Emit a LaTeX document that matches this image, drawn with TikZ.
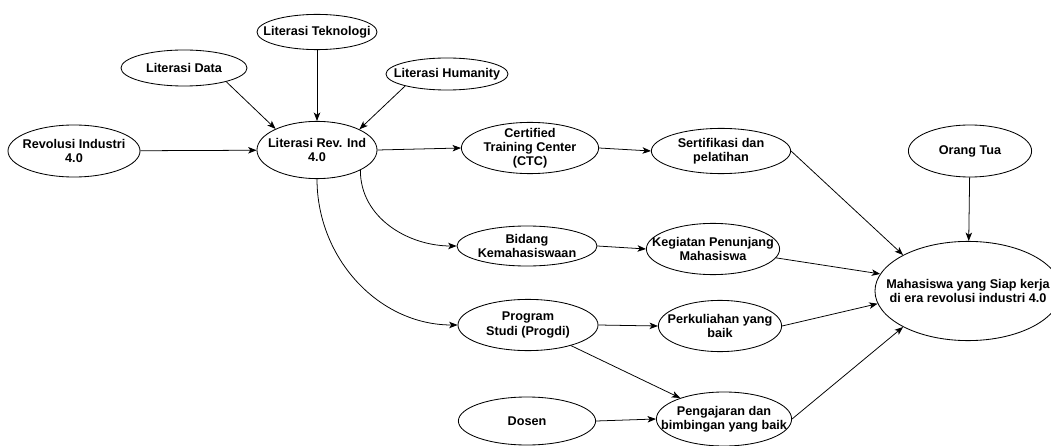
\documentclass[tikz,border=0pt]{standalone}
\usepackage{fontspec}
\setmainfont{Liberation Sans}
\usepackage{tikz}
\usetikzlibrary{shapes.geometric,arrows.meta}

\tikzset{
	oval/.style={draw, ellipse, inner sep=0pt, line width=0.6pt},
	txt/.style={font=\fontsize{9}{10}\selectfont\bfseries, align=center, inner sep=0pt},
	arr/.style={-{Stealth[length=6pt,width=4.6pt,inset=1.6pt]}, line width=0.55pt}
}

\begin{document}
\begin{tikzpicture}[x=0.025cm, y=-0.025cm]
		\useasboundingbox (0,0) rectangle (1051,446);

		% Literasi
		\node [oval, minimum width=3cm, minimum height=0.88cm, label={[txt]center:Literasi Teknologi}] (tek) at (317,32) {};
		\node [oval, minimum width=3.15cm, minimum height=0.9cm, label={[txt]center:Literasi Data}] (data) at (184,68) {};
		\node [oval, minimum width=3.05cm, minimum height=0.8cm, label={[txt]center:Literasi Humanity}] (hum) at (447,74) {};
		\node [oval, minimum width=3.3cm, minimum height=1.3cm, label={[txt]center:{Revolusi Industri\\4.0}}] (rev) at (74,151) {};
		\node [oval, minimum width=3cm, minimum height=1.43cm, label={[txt]center:{Literasi Rev. Ind\\4.0}}] (litrev) at (317,150) {};

		% Unit
		\node [oval, minimum width=3.43cm, minimum height=1.28cm, label={[txt]center:{Certified\\Training Center\\(CTC)}}] (ctc) at (530,148) {};
		\node [oval, minimum width=3.5cm, minimum height=1cm, label={[txt]center:{Bidang\\Kemahasiswaan}}] (bid) at (527,246) {};
		\node [oval, minimum width=3.5cm, minimum height=1.28cm, label={[txt]center:{Program\\Studi (Progdi)}}] (prog) at (528,325) {};
		\node [oval, minimum width=3.43cm, minimum height=1.2cm, label={[txt]center:Dosen}] (dosen) at (527,421) {};

		% Kegiatan
		\node [oval, minimum width=3.48cm, minimum height=1.13cm, label={[txt]center:{Sertifikasi dan\\pelatihan}}] (sert) at (721,151) {};
		\node [oval, minimum width=3.33cm, minimum height=1.28cm, label={[txt]center:{Kegiatan Penunjang\\Mahasiswa}}] (keg) at (713,249) {};
		\node [oval, minimum width=3.08cm, minimum height=1.28cm, label={[txt]center:{Perkuliahan yang\\baik}}] (perk) at (720,326) {};
		\node [oval, minimum width=3.38cm, minimum height=1.35cm, label={[txt]center:{Pengajaran dan\\bimbingan yang baik}}] (peng) at (724,419) {};

		% Hasil
		\node [oval, minimum width=3.08cm, minimum height=1.3cm, label={[txt]center:Orang Tua}] (ortu) at (970,151) {};
		\node [oval, minimum width=4.65cm, minimum height=2.48cm, label={[txt]center:{Mahasiswa yang Siap kerja\\di era revolusi industri 4.0}}] (maha) at (968,291) {};

		\draw [arr] (data.-18) -- (litrev.153);
		\draw [arr] (tek) -- (litrev);
		\draw [arr] (hum.196) -- (litrev.26);
		\draw [arr] (rev) -- (litrev);

		\draw [arr] (litrev.east) -- (ctc.west);
		\draw [arr] (litrev.-25) to [out=-90, in=180] (bid.west);
		\draw [arr] (litrev.south) to [out=-90, in=180] (prog.west);

		\draw [arr] (ctc.east) -- (sert.west);
		\draw [arr] (bid.east) -- (keg.west);
		\draw [arr] (prog.east) -- (perk.west);
		\draw [arr] (prog) -- (peng);
		\draw [arr] (dosen.east) -- (peng.west);

		\draw [arr] (sert.east) -- (maha.151);
		\draw [arr] (keg.-8) -- (maha.169);
		\draw [arr] (perk.east) -- (maha.188);
		\draw [arr] (peng.east) -- (maha.209);
		\draw [arr] (ortu) -- (maha);
	\end{tikzpicture}
\end{document}
